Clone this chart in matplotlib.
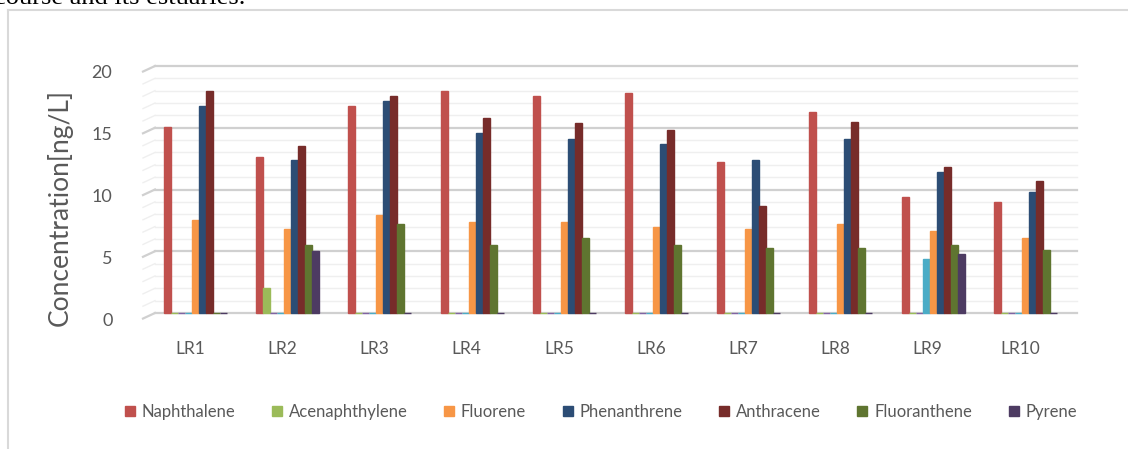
import matplotlib.pyplot as plt
import numpy as np
from matplotlib.lines import Line2D
from matplotlib.transforms import ScaledTranslation

sites = ['LR1', 'LR2', 'LR3', 'LR4', 'LR5', 'LR6', 'LR7', 'LR8', 'LR9', 'LR10']

naphthalene = [15.1, 12.6, 16.8, 18.0, 17.6, 17.8, 12.2, 16.3, 9.4, 9.0]
acenaphthylene = [0, 2.0, 0, 0, 0, 0, 0, 0, 0, 0]
hidden_a = [0, 0, 0, 0, 0, 0, 0, 0, 0, 0]
hidden_b = [0, 0, 0, 0, 0, 0, 0, 0, 4.4, 0]
fluorene = [7.5, 6.8, 7.9, 7.35, 7.35, 7.0, 6.8, 7.2, 6.6, 6.05]
phenanthrene = [16.8, 12.4, 17.2, 14.6, 14.05, 13.65, 12.4, 14.05, 11.4, 9.8]
anthracene = [18.0, 13.5, 17.6, 15.75, 15.35, 14.8, 8.7, 15.5, 11.8, 10.7]
fluoranthene = [0, 5.5, 7.2, 5.5, 6.1, 5.5, 5.3, 5.3, 5.5, 5.1]
pyrene = [0, 5.0, 0, 0, 0, 0, 0, 0, 4.8, 0]

series = [
    ('Naphthalene', naphthalene, '#C0504D'),
    ('_hidden0', acenaphthylene, '#9BBB59'),
    ('_hidden1', hidden_a, '#8064A2'),
    ('_hidden2', hidden_b, '#4BACC6'),
    ('Fluorene', fluorene, '#F79646'),
    ('Phenanthrene', phenanthrene, '#2C4D75'),
    ('Anthracene', anthracene, '#772C2A'),
    ('Fluoranthene', fluoranthene, '#5F7530'),
    ('Pyrene', pyrene, '#4D3B62'),
]
legend_names = ['Naphthalene', 'Acenaphthylene', 'Fluorene', 'Phenanthrene',
                'Anthracene', 'Fluoranthene', 'Pyrene']
legend_colors = ['#C0504D', '#9BBB59', '#F79646', '#2C4D75', '#772C2A', '#5F7530', '#4D3B62']

txt = '#595959'
plt.rcParams['font.family'] = ['Lato', 'DejaVu Sans']

W, H = 1128, 449
fig = plt.figure(figsize=(W / 100, H / 100), dpi=100)

# document text (cut at the top, as in the page crop) and chart frame
fig.text(-6 / W, 1 - 4 / H, 'course and its estuaries.', family='Liberation Serif',
         fontsize=19, va='baseline', ha='left', color='black')
fig.add_artist(Line2D([7.5 / W, 7.5 / W], [0, 1 - 10 / H], color='#d9d9d9', lw=1.5))
fig.add_artist(Line2D([7.5 / W, 1], [1 - 10 / H, 1 - 10 / H], color='#d9d9d9', lw=1.5))

ax = fig.add_axes([143 / W, 1 - 313 / H, (1077 - 143) / W, (313 - 66) / H])
ax.set_xlim(-0.51, 9.62)
ax.set_ylim(0, 20)
for s in ax.spines.values():
    s.set_visible(False)

# gridlines with a little slanted start like the 3D wall
for v in range(0, 21):
    major = v % 5 == 0
    c = '#d0d0d0' if major else '#efefef'
    lw = 1.6 if major else 1.0
    ax.plot([-0.38, 9.62], [v, v], color=c, lw=lw, zorder=0, clip_on=False)
    ax.plot([-0.51, -0.38], [v - 0.45, v], color=c, lw=lw, zorder=0, clip_on=False)

x = np.arange(len(sites))
w = 0.076
for k, (name, vals, col) in enumerate(series):
    pos = x + (k - 4) * w + 0.06
    bars = ax.bar(pos, vals, width=w, color=col, edgecolor=col, linewidth=1.0,
                  label=name, zorder=3)
    for b in bars:
        b.set_clip_on(False)

ax.set_xticks(x)
ax.set_xticklabels(sites, fontsize=12.5, color=txt)
ax.set_yticks([0, 5, 10, 15, 20])
ax.set_yticklabels(['0', '5', '10', '15', '20'], fontsize=13, color=txt)
ax.tick_params(axis='both', length=0)
ax.tick_params(axis='y', pad=22)
ax.tick_params(axis='x', pad=20)
for lab in ax.get_yticklabels():
    lab.set_transform(lab.get_transform() + ScaledTranslation(0, -0.06, fig.dpi_scale_trans))

fig.text(60 / W, 1 - 207 / H, 'Concentration[ng/L]', rotation=90, fontsize=19,
         color=txt, ha='center', va='center')

handles = [plt.Rectangle((0, 0), 1, 1, color=c) for c in legend_colors]
fig.legend(handles, legend_names, loc='center', bbox_to_anchor=(601 / W, 1 - 412 / H),
           ncol=7, frameon=False, fontsize=12, labelcolor=txt,
           handlelength=0.6, handleheight=0.6, handletextpad=0.4, columnspacing=2.2)

fig.savefig('out.png', dpi=100)
